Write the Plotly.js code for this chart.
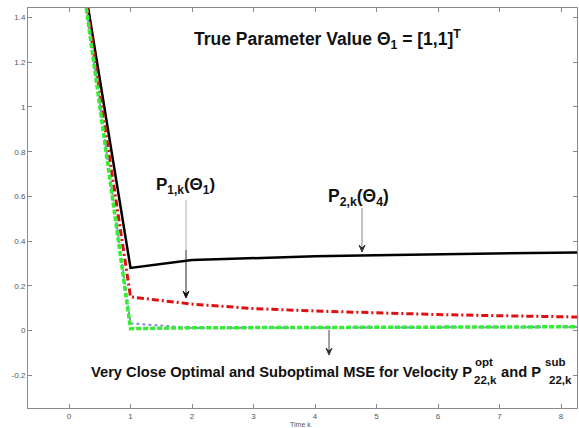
<!DOCTYPE html>
<html>
<head>
<meta charset="utf-8">
<script src="https://cdn.plot.ly/plotly-3.0.1.min.js"></script>
<style>html,body{margin:0;padding:0;background:#fff;}#chart{width:579px;height:428px;}</style>
</head>
<body>
<div id="chart"></div>
<script>
// ---- data ----
var timeK = [0, 1, 2, 3, 4, 5, 6, 7, 8, 9];
var p2Theta4 = [1.97, 0.28, 0.315, 0.325, 0.332, 0.337, 0.341, 0.345, 0.349, 0.352];
var p1Theta1 = [1.98, 0.15, 0.118, 0.098, 0.087, 0.078, 0.071, 0.066, 0.061, 0.057];
var p22Sub   = [2.0, 0.032, 0.011, 0.012, 0.013, 0.014, 0.014, 0.015, 0.015, 0.016];
var p22Opt   = [2.0, 0.008, 0.012, 0.013, 0.014, 0.015, 0.015, 0.016, 0.016, 0.017];
var xTickVals = [0, 1, 2, 3, 4, 5, 6, 7, 8];
var yTickVals = [-0.2, 0, 0.2, 0.4, 0.6, 0.8, 1, 1.2, 1.4];
var yTickText = ['-0.2', '0', '0.2', '0.4', '0.6', '0.8', '1', '1.2', '1.4'];

var W = 579, H = 428, ML = 28, MR = 2, MT = 8, MB = 20;
function px(x) { return (x - ML) / (W - ML - MR); }
function py(y) { return (H - MB - y) / (H - MT - MB); }

var FONT = 'Arial, "Liberation Sans", Helvetica, sans-serif';

var traces = [
  {x: timeK, y: p2Theta4, mode: 'lines', line: {color: '#000000', width: 2.5}},
  {x: timeK, y: p1Theta1, mode: 'lines', line: {color: '#dd1111', width: 3, dash: '7px,3px,2px,3px'}},
  {x: timeK, y: p22Sub, mode: 'lines', line: {color: '#8c8cd0', width: 2, dash: 'dot'}},
  {x: timeK, y: p22Opt, mode: 'lines', line: {color: '#33ee33', width: 3.5, dash: '5px,2px'}}
];

function txt(t, x, y, size, xanchor) {
  return {text: t, xref: 'paper', yref: 'paper', x: px(x), y: py(y),
    xanchor: xanchor || 'center', yanchor: 'middle', showarrow: false,
    font: {family: FONT, size: size, color: '#111'}};
}

var annotations = [
  txt('<b>True Parameter Value Θ<sub>1</sub> = [1,1]<sup>T</sup></b>', 327, 39, 17.5),
  txt('<b>P<sub>1,k</sub>(Θ<sub>1</sub>)</b>', 185, 186, 17),
  txt('<b>P<sub>2,k</sub>(Θ<sub>4</sub>)</b>', 358, 197, 17.5),
  txt('<b>Very Close Optimal and Suboptimal MSE for Velocity P</b>', 89, 372, 14.7, 'left'),
  txt('<b>opt</b>', 473, 362, 11.5, 'left'),
  txt('<b>22,k</b>', 472, 380, 11.5, 'left'),
  txt('<b>and P</b>', 499, 372, 14.7, 'left'),
  txt('<b>sub</b>', 543, 362, 11.5, 'left'),
  txt('<b>22,k</b>', 547, 380, 11.5, 'left'),
  {text: 'Time k', xref: 'paper', yref: 'paper', x: px(300), y: py(424), xanchor: 'center', yanchor: 'middle',
   showarrow: false, font: {family: FONT, size: 7, color: '#555'}}
];

// arrow shafts and heads as paper-positioned shapes
function shaft(x, y0, y1, color) {
  return {type: 'line', xref: 'paper', yref: 'paper', x0: px(x), x1: px(x), y0: py(y0), y1: py(y1),
    line: {color: color, width: 1}};
}
function head(x, yTip, color) {
  var p = 'M' + px(x) + ',' + py(yTip) + ' L' + px(x - 3) + ',' + py(yTip - 7) +
          ' L' + px(x) + ',' + py(yTip - 4) + ' L' + px(x + 3) + ',' + py(yTip - 7) + ' Z';
  return {type: 'path', xref: 'paper', yref: 'paper', path: p, fillcolor: color, line: {color: color, width: 1}};
}
var shapes = [
  shaft(186, 200, 250, '#aaaaaa'),
  shaft(186, 250, 296, '#222222'),
  head(186, 298, '#111111'),
  shaft(362, 208, 250, '#888888'),
  head(362, 252, '#333333'),
  shaft(329, 330, 353, '#444444'),
  head(329, 355, '#333333')
];

var layout = {
  width: W, height: H,
  margin: {l: ML, r: MR, t: MT, b: MB, pad: 0},
  paper_bgcolor: '#ffffff', plot_bgcolor: '#ffffff',
  showlegend: false,
  xaxis: {
    range: [-0.667, 8.26], tickvals: xTickVals, ticks: 'inside', ticklen: 4, tickcolor: '#888',
    showline: true, linecolor: '#8a8a8a', linewidth: 1, mirror: 'ticks', showgrid: false, zeroline: false,
    tickfont: {family: FONT, size: 8, color: '#555'}
  },
  yaxis: {
    range: [-0.347, 1.443], tickvals: yTickVals, ticktext: yTickText, ticks: 'inside', ticklen: 4, tickcolor: '#888',
    showline: true, linecolor: '#8a8a8a', linewidth: 1, mirror: 'ticks', showgrid: false, zeroline: false,
    tickfont: {family: FONT, size: 8, color: '#555'}
  },
  annotations: annotations,
  shapes: shapes
};

Plotly.newPlot('chart', traces, layout, {staticPlot: true, displayModeBar: false});
</script>
</body>
</html>
